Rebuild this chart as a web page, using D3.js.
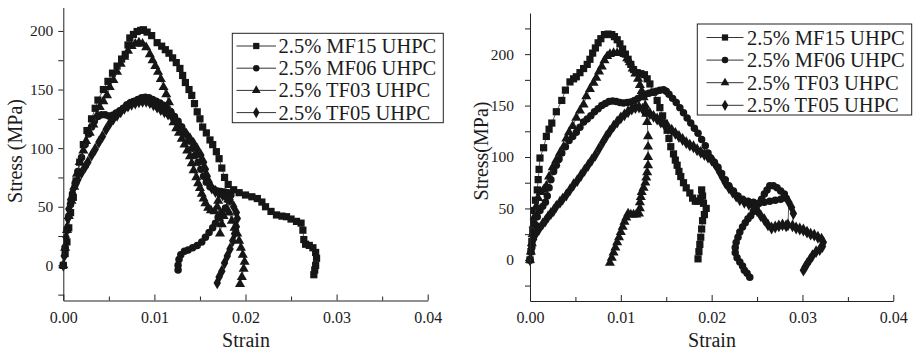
<!DOCTYPE html>
<html>
<head>
<meta charset="utf-8">
<script src="https://cdn.jsdelivr.net/npm/d3@7"></script>
<style>
  html, body { margin: 0; padding: 0; background: #fff; }
  svg { display: block; }
  text { font-family: "Liberation Serif", "Times New Roman", serif; fill: #1c1c1c; }
</style>
</head>
<body>
<svg id="chart" width="919" height="352"></svg>
<script>
// ---- Data: [strain, stress (MPa)] ----
const seriesNames = ["2.5% MF15 UHPC", "2.5% MF06 UHPC", "2.5% TF03 UHPC", "2.5% TF05 UHPC"];
const strainTicks = [0, 0.01, 0.02, 0.03, 0.04];
const strainMinorTicks = [0.005, 0.015, 0.025, 0.035];
const stressTicks = [0, 50, 100, 150, 200];
const stressMinorLeft = [-25, 25, 75, 125, 175];
const stressMinorRight = [-25, 25, 75, 125, 175, 225];
const stressDomainLeft = [-30, 220];
const stressDomainRight = [-40, 240];
const strainDomain = [0, 0.04];

// Panel (a)
const leftMF15 = [[0,0],[0.0002,10],[0.0004,20],[0.0006,32],[0.0008,45],[0.0011,58],[0.0014,72],[0.0018,88],[0.0022,103],[0.0026,115],[0.0031,125],[0.0035,134],[0.0038,141],[0.0044,150],[0.0049,157],[0.0054,164],[0.0059,170],[0.0064,176],[0.0068,180],[0.0071,188],[0.0073,194],[0.0077,197],[0.0081,199.5],[0.0085,200.5],[0.0088,201],[0.0092,199],[0.0097,196],[0.0103,190],[0.0108,187],[0.0112,184],[0.0116,181],[0.0120,177],[0.0124,173],[0.0128,168],[0.0131,162],[0.0134,156],[0.0138,150],[0.0141,145],[0.0144,138],[0.0147,131],[0.0150,125],[0.0153,118],[0.0157,113],[0.0161,107],[0.0164,103],[0.0168,97],[0.0171,91],[0.0174,83],[0.0177,75],[0.0181,69],[0.0187,64.5],[0.0193,62],[0.0200,60],[0.0207,58.5],[0.0213,57],[0.0218,54],[0.0222,50],[0.0228,46],[0.0234,43],[0.0240,42],[0.0245,41.5],[0.0250,39.5],[0.0256,37.5],[0.0261,36],[0.0263,30],[0.0264,22],[0.0266,18],[0.0270,17],[0.0274,15],[0.0277,11],[0.0278,6],[0.0277,0],[0.0276,-4],[0.0275,-8]];
const leftMF06 = [[0,0],[0.0002,15],[0.0004,30],[0.0006,42],[0.0008,52],[0.0010,60],[0.0013,70],[0.0016,80],[0.0020,92],[0.0024,103],[0.0028,112],[0.0031,118],[0.0034,123],[0.0038,127],[0.0042,128.5],[0.0046,128.5],[0.0050,127.5],[0.0054,128],[0.0058,130],[0.0062,132],[0.0066,134],[0.0070,137],[0.0074,139],[0.0078,140],[0.0082,141.5],[0.0086,143],[0.0090,143.5],[0.0094,143],[0.0098,141.5],[0.0102,140],[0.0106,138.5],[0.0110,136.5],[0.0114,134],[0.0118,131],[0.0122,127],[0.0126,123],[0.0130,118],[0.0134,112],[0.0138,106],[0.0142,100],[0.0145,94],[0.0148,88],[0.0151,82],[0.0154,76],[0.0157,71],[0.0161,67],[0.0165,65],[0.0169,63.5],[0.0173,63],[0.0177,62.5],[0.0181,62],[0.0184,60],[0.0182,55],[0.0178,49],[0.0174,45],[0.0170,41],[0.0167,36],[0.0164,32],[0.0160,28],[0.0156,24],[0.0152,20],[0.0147,17],[0.0142,15],[0.0137,13],[0.0133,12],[0.0129,9],[0.0127,5],[0.0126,0],[0.0126,-4]];
const leftTF03 = [[0,0],[0.0002,15],[0.0004,30],[0.0006,42],[0.0009,55],[0.0012,67],[0.0015,78],[0.0018,88],[0.0022,98],[0.0025,106],[0.0029,113],[0.0033,120],[0.0037,128],[0.0040,135],[0.0044,140],[0.0048,145],[0.0051,152],[0.0055,158],[0.0059,165],[0.0063,172],[0.0067,178],[0.0071,183],[0.0075,187],[0.0079,189],[0.0083,190],[0.0087,189],[0.0091,186],[0.0095,180],[0.0098,175],[0.0101,170],[0.0104,165],[0.0107,159],[0.0110,152],[0.0113,146],[0.0116,139],[0.0119,130],[0.0121,122],[0.0124,117],[0.0127,113],[0.0130,108],[0.0133,103],[0.0136,98],[0.0139,93],[0.0141,87],[0.0143,81],[0.0146,75],[0.0148,70],[0.0150,66],[0.0152,61],[0.0154,57],[0.0156,53],[0.0159,49],[0.0162,47],[0.0166,46],[0.0169,50],[0.0170,55],[0.0171,40],[0.0172,27],[0.0174,35],[0.0176,42],[0.0179,48],[0.0181,56],[0.0182,45],[0.0185,38],[0.0188,32],[0.0191,27],[0.0193,21],[0.0195,15],[0.0197,9],[0.0199,3],[0.0198,-3],[0.0196,-10],[0.0194,-16]];
const leftTF05 = [[0,0],[0.0001,8],[0.0002,16],[0.0003,24],[0.0004,32],[0.0005,40],[0.0006,48],[0.0008,56],[0.0010,62],[0.0013,68],[0.0016,73],[0.0020,79],[0.0024,84],[0.0027,88],[0.0031,94],[0.0035,99],[0.0039,105],[0.0043,110],[0.0047,116],[0.0051,121],[0.0055,125],[0.0059,128],[0.0063,131],[0.0067,134],[0.0071,136],[0.0075,137.5],[0.0079,138.5],[0.0083,139.5],[0.0087,140],[0.0091,140],[0.0095,139],[0.0099,137],[0.0103,135],[0.0107,133],[0.0111,131],[0.0115,129],[0.0119,127],[0.0123,124],[0.0127,120],[0.0131,116],[0.0135,112],[0.0139,108],[0.0143,104],[0.0147,99],[0.0151,94],[0.0154,88],[0.0156,82],[0.0158,76],[0.0160,71],[0.0163,66],[0.0167,63],[0.0171,61],[0.0175,60],[0.0179,58],[0.0183,56],[0.0187,50],[0.0190,45],[0.0191,40],[0.0190,33],[0.0188,27],[0.0186,21],[0.0183,14],[0.0180,8],[0.0177,2],[0.0174,-5],[0.0171,-10],[0.0169,-15]];

// Panel (b)
const rightMF15 = [[0,0],[0.0001,8],[0.0002,18],[0.0003,28],[0.0004,38],[0.0005,48],[0.0006,58],[0.0008,68],[0.0009,78],[0.0010,88],[0.0011,99],[0.0015,109],[0.0018,120],[0.0021,127],[0.0024,133],[0.0029,144],[0.0035,155],[0.0039,165],[0.0044,173],[0.0048,176],[0.0051,178],[0.0055,182],[0.0059,186],[0.0063,190],[0.0066,195],[0.0069,201],[0.0072,206],[0.0075,211],[0.0078,215],[0.0082,219],[0.0086,219.5],[0.0090,219],[0.0093,217],[0.0096,214],[0.0099,210],[0.0102,205],[0.0105,200],[0.0108,195],[0.0111,190],[0.0114,185],[0.0118,182],[0.0122,181],[0.0126,180],[0.0129,176],[0.0132,171],[0.0136,163],[0.0140,155],[0.0143,148],[0.0146,140],[0.0148,133],[0.0151,126],[0.0153,118],[0.0155,110],[0.0158,103],[0.0160,97],[0.0162,92],[0.0164,86],[0.0166,81],[0.0169,75],[0.0172,70],[0.0176,65],[0.0179,60],[0.0182,57],[0.0185,57],[0.0188,60],[0.0189,68],[0.0190,62],[0.0191,55],[0.0194,50],[0.0192,44],[0.0190,38],[0.0189,30],[0.0188,22],[0.0187,15],[0.0186,8],[0.0185,1]];
const rightMF06 = [[0,0],[0.0002,12],[0.0004,24],[0.0006,34],[0.0008,42],[0.0011,48],[0.0014,52],[0.0017,56],[0.0019,62],[0.0021,70],[0.0023,78],[0.0026,86],[0.0029,92],[0.0032,98],[0.0035,104],[0.0039,110],[0.0043,116],[0.0047,120],[0.0051,124],[0.0055,129],[0.0059,134],[0.0063,137],[0.0067,140],[0.0071,144],[0.0075,147],[0.0079,150],[0.0083,152],[0.0087,154],[0.0091,154.5],[0.0095,154],[0.0099,153],[0.0103,152.5],[0.0107,153],[0.0111,153.5],[0.0115,155],[0.0119,157],[0.0123,159],[0.0127,161],[0.0131,162],[0.0135,163],[0.0139,164],[0.0143,165],[0.0147,165.5],[0.0150,164],[0.0153,161],[0.0157,157],[0.0161,153],[0.0165,148],[0.0169,143],[0.0173,138],[0.0177,133],[0.0181,128],[0.0185,123],[0.0189,117],[0.0193,111],[0.0196,104],[0.0199,99],[0.0203,95],[0.0207,90],[0.0211,84],[0.0215,78],[0.0219,72],[0.0224,67],[0.0229,62],[0.0234,59],[0.0240,57],[0.0246,56],[0.0252,55],[0.0258,56],[0.0264,57],[0.0270,58],[0.0276,59],[0.0282,60],[0.0280,64],[0.0276,67],[0.0272,70],[0.0268,72],[0.0264,72],[0.0261,68],[0.0258,64],[0.0255,59],[0.0252,55],[0.0249,51],[0.0246,47],[0.0243,43],[0.0240,40],[0.0237,36],[0.0234,32],[0.0231,27],[0.0229,22],[0.0227,17],[0.0226,12],[0.0226,7],[0.0228,2],[0.0231,-2],[0.0234,-6],[0.0236,-10],[0.0239,-13],[0.0242,-17]];
const rightTF03 = [[0,0],[0.0001,8],[0.0002,16],[0.0003,25],[0.0004,34],[0.0005,42],[0.0007,52],[0.0009,60],[0.0012,66],[0.0015,68],[0.0018,72],[0.0021,81],[0.0025,90],[0.0029,97],[0.0033,104],[0.0037,110],[0.0040,118],[0.0043,124],[0.0047,130],[0.0051,138],[0.0055,145],[0.0059,151],[0.0062,159],[0.0066,166],[0.0070,172],[0.0073,177],[0.0076,183],[0.0079,188],[0.0082,194],[0.0085,198],[0.0088,200],[0.0092,201],[0.0096,201],[0.0100,201],[0.0104,200],[0.0107,196],[0.0110,192],[0.0113,186],[0.0116,181],[0.0119,176],[0.0121,170],[0.0123,164],[0.0125,158],[0.0127,150],[0.0128,142],[0.0129,134],[0.0130,120],[0.0130,110],[0.0130,100],[0.0130,92],[0.0129,85],[0.0128,80],[0.0127,75],[0.0125,70],[0.0123,66],[0.0122,61],[0.0121,56],[0.0121,50],[0.0120,45],[0.0117,44],[0.0114,44],[0.0111,44],[0.0108,45],[0.0106,41],[0.0104,37],[0.0102,32],[0.0100,27],[0.0098,22],[0.0096,17],[0.0094,12],[0.0092,7],[0.0090,2],[0.0088,-3]];
const rightTF05 = [[0,0],[0.0001,8],[0.0002,14],[0.0004,20],[0.0007,26],[0.0010,30],[0.0014,35],[0.0017,38],[0.0020,42],[0.0023,45],[0.0026,48],[0.0029,52],[0.0033,56],[0.0036,59],[0.0040,63],[0.0044,68],[0.0048,73],[0.0052,77],[0.0056,82],[0.0060,87],[0.0064,92],[0.0068,97],[0.0072,102],[0.0076,108],[0.0080,114],[0.0084,120],[0.0088,125],[0.0092,130],[0.0096,134],[0.0100,138],[0.0104,141],[0.0108,144],[0.0112,146.5],[0.0116,148],[0.0120,148.5],[0.0124,146.5],[0.0128,144.5],[0.0132,142],[0.0136,139.5],[0.0140,137],[0.0144,134],[0.0148,131.5],[0.0152,129],[0.0156,126],[0.0160,123],[0.0164,120],[0.0168,117],[0.0172,114],[0.0176,111.5],[0.0180,110],[0.0184,107],[0.0188,104.5],[0.0192,102.5],[0.0196,100],[0.0200,97],[0.0203,94],[0.0206,90],[0.0209,85],[0.0212,80],[0.0215,75],[0.0219,70],[0.0223,66],[0.0227,62],[0.0231,58.5],[0.0236,56],[0.0241,54],[0.0246,51.5],[0.0250,48],[0.0254,43],[0.0258,39],[0.0262,34],[0.0266,31],[0.0270,32],[0.0274,33],[0.0278,34],[0.0282,33],[0.0284,34],[0.0285,56],[0.0288,51],[0.0290,45],[0.0289,33],[0.0293,31],[0.0297,30],[0.0301,29],[0.0305,27],[0.0309,25],[0.0313,24],[0.0317,22],[0.0321,20],[0.0323,17],[0.0322,13],[0.0319,10],[0.0315,8],[0.0311,4],[0.0308,0],[0.0305,-4],[0.0303,-7],[0.0301,-10]];

// ---- Layout and styling ----
const symbols = [
  { type: d3.symbolSquare, size: 52 },
  { type: d3.symbolCircle, size: 44 },
  { type: d3.symbolTriangle, size: 44 },
  { type: d3.symbolDiamond, size: 48 }
];
const ink = "#161616";

const panels = [
  {
    xRange: [63.3, 427.7], yRange: [300.5, 7.5], yDomain: stressDomainLeft,
    yMinor: stressMinorLeft, yLabelPad: 5,
    series: [leftMF15, leftMF06, leftTF03, leftTF05],
    yTitle: "Stress (MPa)", yTitlePos: [15, 151], xTitlePos: [246, 340],
    legend: { x: 232.3, y: 33.3, w: 211, h: 89.4, row0: 46, rowStep: 22.2, sx0: 236.5, sx1: 276, tx: 278.5 }
  },
  {
    xRange: [530, 893.3], yRange: [301, 13], yDomain: stressDomainRight,
    yMinor: stressMinorRight, yLabelPad: 11,
    series: [rightMF15, rightMF06, rightTF03, rightTF05],
    yTitle: "Stress(MPa)", yTitlePos: [481, 151], xTitlePos: [712, 340],
    legend: { x: 697.3, y: 24, w: 214.4, h: 91, row0: 37.5, rowStep: 22.6, sx0: 706.5, sx1: 743.5, tx: 747 }
  }
];

const svg = d3.select("#chart");

panels.forEach(p => {
  const x = d3.scaleLinear().domain(strainDomain).range(p.xRange);
  const y = d3.scaleLinear().domain(p.yDomain).range(p.yRange);
  const g = svg.append("g");

  // curves: thin connecting line plus filled markers
  p.series.forEach((data, i) => {
    const line = d3.line().x(d => x(d[0])).y(d => y(d[1]));
    g.append("path")
      .attr("d", line(data))
      .attr("fill", "none")
      .attr("stroke", "#333")
      .attr("stroke-width", 0.8);
    const sym = d3.symbol().type(symbols[i].type).size(symbols[i].size);
    g.append("g").selectAll("path")
      .data(data)
      .join("path")
      .attr("d", sym)
      .attr("transform", d => `translate(${x(d[0])},${y(d[1])})`)
      .attr("fill", ink);
  });

  // x axis: ticks pointing into the plot
  const xBase = p.yRange[0];
  const xAxis = d3.axisBottom(x)
    .tickValues(strainTicks)
    .tickFormat(d3.format(".2f"))
    .tickSizeInner(-6).tickSizeOuter(0).tickPadding(11);
  const gx = g.append("g").attr("transform", `translate(0,${xBase})`).call(xAxis);
  const gxm = g.append("g").attr("transform", `translate(0,${xBase})`)
    .call(d3.axisBottom(x).tickValues(strainMinorTicks).tickFormat("").tickSizeInner(-4).tickSizeOuter(0));
  gxm.select(".domain").remove();

  // y axis: ticks pointing outward
  const yAxis = d3.axisLeft(y)
    .tickValues(stressTicks)
    .tickFormat(d3.format("d"))
    .tickSizeInner(5).tickSizeOuter(0).tickPadding(p.yLabelPad);
  const gy = g.append("g").attr("transform", `translate(${p.xRange[0]},0)`).call(yAxis);
  const gym = g.append("g").attr("transform", `translate(${p.xRange[0]},0)`)
    .call(d3.axisLeft(y).tickValues(p.yMinor).tickFormat("").tickSizeInner(5).tickSizeOuter(0));
  gym.select(".domain").remove();

  [gx, gxm, gy, gym].forEach(a => {
    a.selectAll("path, line").attr("stroke", "#222").attr("stroke-width", 1);
    a.selectAll("text")
      .style("font-family", "'Liberation Serif', serif")
      .attr("fill", "#1c1c1c");
  });
  gx.selectAll("text").style("font-size", "16px");
  gy.selectAll("text").style("font-size", "15.5px");

  // axis titles
  g.append("text")
    .attr("x", p.xTitlePos[0]).attr("y", p.xTitlePos[1])
    .attr("text-anchor", "middle").attr("dominant-baseline", "central")
    .style("font-size", "20px")
    .text("Strain");
  g.append("text")
    .attr("transform", `translate(${p.yTitlePos[0]},${p.yTitlePos[1]}) rotate(-90)`)
    .attr("text-anchor", "middle").attr("dominant-baseline", "central")
    .style("font-size", "20px")
    .text(p.yTitle);

  // legend
  const L = p.legend;
  const lg = g.append("g");
  lg.append("rect")
    .attr("x", L.x).attr("y", L.y).attr("width", L.w).attr("height", L.h)
    .attr("fill", "#fff").attr("stroke", "#222").attr("stroke-width", 1);
  seriesNames.forEach((name, i) => {
    const ry = L.row0 + i * L.rowStep;
    lg.append("line")
      .attr("x1", L.sx0).attr("x2", L.sx1).attr("y1", ry).attr("y2", ry)
      .attr("stroke", "#333").attr("stroke-width", 1);
    lg.append("path")
      .attr("d", d3.symbol().type(symbols[i].type).size(symbols[i].size * 0.75)())
      .attr("transform", `translate(${(L.sx0 + L.sx1) / 2},${ry})`)
      .attr("fill", ink);
    lg.append("text")
      .attr("x", L.tx).attr("y", ry)
      .attr("dominant-baseline", "central")
      .style("font-size", "20.5px")
      .text(name);
  });
});
</script>
</body>
</html>
